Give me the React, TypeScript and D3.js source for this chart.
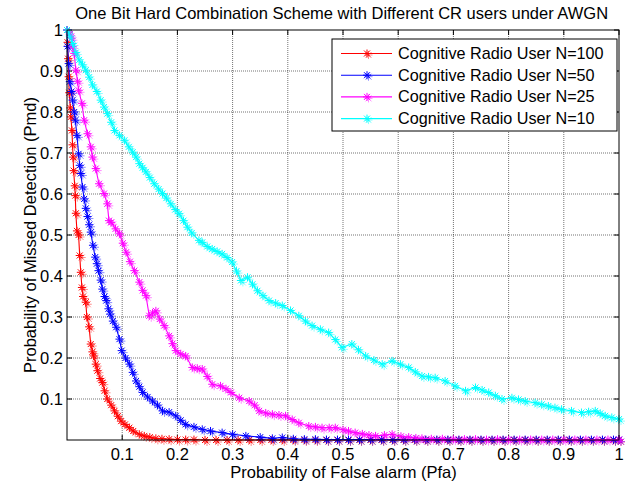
import * as d3 from 'd3'

const redPfa = [0, 0.001, 0.002, 0.003, 0.004, 0.006, 0.007, 0.009, 0.01, 0.011, 0.012, 0.014, 0.015, 0.016, 0.018, 0.021, 0.023, 0.025, 0.027, 0.029, 0.034, 0.036, 0.04, 0.043, 0.046, 0.048, 0.052, 0.055, 0.06, 0.064, 0.068, 0.073, 0.08, 0.086, 0.092, 0.098, 0.105, 0.113, 0.12, 0.131, 0.14, 0.15, 0.161, 0.172, 0.185, 0.2, 0.215, 0.23, 0.25, 0.27, 0.29, 0.31, 0.33, 0.35, 0.37, 0.39, 0.41, 0.43, 0.45, 0.47, 0.49, 0.51, 0.53, 0.55, 0.57, 0.59, 0.61, 0.63, 0.65, 0.67, 0.69, 0.71, 0.73, 0.75, 0.77, 0.79, 0.81, 0.83, 0.85, 0.87, 0.89, 0.91, 0.93, 0.95, 0.97, 0.99, 1]
const redPmd = [1, 0.97, 0.93, 0.886, 0.847, 0.81, 0.788, 0.755, 0.72, 0.69, 0.657, 0.62, 0.596, 0.553, 0.51, 0.5, 0.45, 0.409, 0.372, 0.35, 0.336, 0.3, 0.276, 0.234, 0.215, 0.205, 0.185, 0.169, 0.15, 0.14, 0.12, 0.1, 0.085, 0.071, 0.058, 0.046, 0.038, 0.03, 0.022, 0.014, 0.01, 0.007, 0.004, 0.003, 0.002, 0.001, 0.001, 0.001, 0, 0, 0, 0, 0, 0, 0, 0, 0, 0, 0, 0, 0, 0, 0, 0, 0, 0, 0, 0, 0, 0, 0, 0, 0, 0, 0, 0, 0, 0, 0, 0, 0, 0, 0, 0, 0, 0, 0]

const bluePfa = [0, 0.001, 0.003, 0.005, 0.008, 0.01, 0.013, 0.015, 0.018, 0.021, 0.023, 0.025, 0.028, 0.031, 0.034, 0.037, 0.04, 0.043, 0.047, 0.051, 0.054, 0.057, 0.061, 0.064, 0.068, 0.071, 0.075, 0.078, 0.083, 0.089, 0.095, 0.099, 0.106, 0.113, 0.119, 0.125, 0.131, 0.137, 0.146, 0.155, 0.164, 0.173, 0.185, 0.197, 0.206, 0.215, 0.23, 0.245, 0.26, 0.281, 0.3, 0.324, 0.35, 0.372, 0.39, 0.41, 0.43, 0.45, 0.47, 0.49, 0.51, 0.53, 0.55, 0.57, 0.59, 0.61, 0.63, 0.65, 0.67, 0.69, 0.71, 0.73, 0.75, 0.77, 0.79, 0.81, 0.83, 0.85, 0.87, 0.89, 0.91, 0.93, 0.95, 0.97, 0.99, 1]
const bluePmd = [1, 0.96, 0.918, 0.874, 0.85, 0.829, 0.8, 0.78, 0.743, 0.698, 0.67, 0.65, 0.617, 0.588, 0.565, 0.545, 0.525, 0.507, 0.475, 0.446, 0.43, 0.413, 0.39, 0.368, 0.35, 0.34, 0.32, 0.307, 0.29, 0.275, 0.246, 0.218, 0.2, 0.185, 0.165, 0.144, 0.13, 0.116, 0.105, 0.095, 0.085, 0.071, 0.068, 0.059, 0.048, 0.038, 0.032, 0.026, 0.022, 0.018, 0.014, 0.01, 0.007, 0.004, 0.006, 0.003, 0.002, 0.002, 0.001, 0.001, 0.001, 0.001, 0.001, 0.001, 0.001, 0.001, 0.001, 0.001, 0.001, 0.001, 0.001, 0.001, 0.001, 0.001, 0.001, 0.001, 0.001, 0.001, 0.001, 0.001, 0.001, 0.001, 0.001, 0.001, 0.001, 0.001]

const magentaPfa = [0, 0.005, 0.008, 0.01, 0.013, 0.016, 0.019, 0.021, 0.027, 0.031, 0.037, 0.043, 0.046, 0.052, 0.058, 0.067, 0.073, 0.076, 0.08, 0.088, 0.095, 0.101, 0.107, 0.114, 0.122, 0.131, 0.137, 0.143, 0.149, 0.155, 0.161, 0.168, 0.176, 0.185, 0.191, 0.197, 0.206, 0.215, 0.227, 0.236, 0.245, 0.254, 0.263, 0.278, 0.288, 0.297, 0.312, 0.33, 0.34, 0.348, 0.36, 0.372, 0.384, 0.396, 0.408, 0.42, 0.438, 0.45, 0.462, 0.475, 0.486, 0.5, 0.51, 0.522, 0.535, 0.547, 0.559, 0.575, 0.589, 0.605, 0.619, 0.632, 0.643, 0.66, 0.68, 0.7, 0.72, 0.74, 0.76, 0.78, 0.8, 0.82, 0.84, 0.86, 0.88, 0.9, 0.92, 0.94, 0.96, 0.98, 1]
const magentaPmd = [1, 0.99, 0.98, 0.96, 0.943, 0.902, 0.875, 0.853, 0.821, 0.78, 0.747, 0.715, 0.69, 0.662, 0.625, 0.601, 0.576, 0.535, 0.531, 0.515, 0.503, 0.48, 0.458, 0.435, 0.413, 0.385, 0.365, 0.352, 0.303, 0.31, 0.315, 0.295, 0.279, 0.254, 0.235, 0.218, 0.21, 0.205, 0.177, 0.175, 0.173, 0.155, 0.136, 0.132, 0.125, 0.116, 0.103, 0.095, 0.085, 0.071, 0.066, 0.063, 0.061, 0.059, 0.05, 0.042, 0.034, 0.032, 0.03, 0.03, 0.03, 0.025, 0.022, 0.018, 0.015, 0.012, 0.01, 0.012, 0.014, 0.009, 0.007, 0.005, 0.004, 0.003, 0.003, 0.002, 0.002, 0.002, 0.001, 0.002, 0.001, 0.001, 0.001, 0.001, 0.001, 0.001, 0.001, 0.001, 0.001, 0.001, 0.001]

const cyanPfa = [0, 0.005, 0.01, 0.016, 0.022, 0.028, 0.034, 0.04, 0.046, 0.054, 0.061, 0.067, 0.073, 0.08, 0.086, 0.095, 0.104, 0.112, 0.119, 0.125, 0.131, 0.137, 0.143, 0.15, 0.158, 0.166, 0.173, 0.18, 0.188, 0.196, 0.203, 0.211, 0.218, 0.226, 0.239, 0.245, 0.254, 0.263, 0.272, 0.281, 0.29, 0.299, 0.307, 0.315, 0.327, 0.336, 0.345, 0.355, 0.366, 0.378, 0.39, 0.405, 0.42, 0.432, 0.444, 0.459, 0.474, 0.486, 0.498, 0.516, 0.528, 0.541, 0.556, 0.571, 0.589, 0.604, 0.619, 0.631, 0.643, 0.655, 0.667, 0.685, 0.703, 0.722, 0.74, 0.752, 0.764, 0.776, 0.788, 0.806, 0.818, 0.83, 0.848, 0.86, 0.872, 0.884, 0.896, 0.914, 0.932, 0.945, 0.957, 0.966, 0.975, 0.987, 1]
const cyanPmd = [1, 0.985, 0.967, 0.945, 0.927, 0.915, 0.902, 0.885, 0.866, 0.85, 0.829, 0.812, 0.796, 0.775, 0.755, 0.743, 0.731, 0.715, 0.702, 0.69, 0.674, 0.664, 0.654, 0.64, 0.625, 0.612, 0.601, 0.59, 0.576, 0.562, 0.552, 0.535, 0.519, 0.505, 0.487, 0.482, 0.472, 0.466, 0.46, 0.454, 0.445, 0.434, 0.412, 0.389, 0.397, 0.38, 0.364, 0.352, 0.34, 0.334, 0.328, 0.316, 0.303, 0.29, 0.279, 0.27, 0.262, 0.245, 0.226, 0.234, 0.22, 0.205, 0.195, 0.185, 0.193, 0.185, 0.177, 0.166, 0.156, 0.154, 0.152, 0.144, 0.132, 0.12, 0.128, 0.122, 0.116, 0.108, 0.1, 0.103, 0.099, 0.095, 0.091, 0.087, 0.083, 0.079, 0.075, 0.071, 0.067, 0.069, 0.071, 0.065, 0.059, 0.055, 0.051]

const seriesNames = ['Cognitive Radio User N=100', 'Cognitive Radio User N=50', 'Cognitive Radio User N=25', 'Cognitive Radio User N=10']
const seriesColors = ['#ff0000', '#0000ff', '#ff00ff', '#00ffff']
const tickValues = [0.1, 0.2, 0.3, 0.4, 0.5, 0.6, 0.7, 0.8, 0.9, 1]

const W = 630
const H = 485
const M = { left: 67, right: 619, top: 30, bottom: 440 }
const FONT = 'Liberation Sans, Arial, sans-serif'

// MATLAB-style '*' marker
const STAR = 'M-4,0L4,0M0,-4L0,4M-3,-3L3,3M-3,3L3,-3'

export default function App() {
  const x = d3.scaleLinear().domain([0, 1]).range([M.left, M.right])
  const y = d3.scaleLinear().domain([0, 1]).range([M.bottom, M.top])

  const series = [
    { pfa: redPfa, pmd: redPmd },
    { pfa: bluePfa, pmd: bluePmd },
    { pfa: magentaPfa, pmd: magentaPmd },
    { pfa: cyanPfa, pmd: cyanPmd },
  ].map((s, i) => ({
    name: seriesNames[i],
    color: seriesColors[i],
    points: s.pfa.map((v, j) => [v, s.pmd[j]] as [number, number]),
  }))

  const line = d3
    .line<[number, number]>()
    .x(d => x(d[0]))
    .y(d => y(d[1]))

  const legend = { x: 332, y: 39, w: 285, h: 92, row: 21.7 }
  const fmt = d3.format('~g')

  return (
    <svg
      width={W}
      height={H}
      style={{ position: 'absolute', left: 0, top: 0, background: '#fff' }}
      fontFamily={FONT}
    >
      <rect x={0} y={0} width={W} height={H} fill="#fff" />

      {/* grid */}
      <g stroke="#000" strokeOpacity={0.55} strokeWidth={1} strokeDasharray="1,1">
        {tickValues.slice(0, -1).map(t => (
          <line key={'gx' + t} x1={x(t)} x2={x(t)} y1={M.top} y2={M.bottom} />
        ))}
        {tickValues.slice(0, -1).map(t => (
          <line key={'gy' + t} x1={M.left} x2={M.right} y1={y(t)} y2={y(t)} />
        ))}
      </g>

      {/* ticks on all sides */}
      <g stroke="#000" strokeWidth={1}>
        {tickValues.map(t => (
          <g key={'t' + t}>
            <line x1={x(t)} x2={x(t)} y1={M.bottom} y2={M.bottom - 5} />
            <line x1={x(t)} x2={x(t)} y1={M.top} y2={M.top + 5} />
            <line x1={M.left} x2={M.left + 5} y1={y(t)} y2={y(t)} />
            <line x1={M.right} x2={M.right - 5} y1={y(t)} y2={y(t)} />
          </g>
        ))}
      </g>

      {/* curves */}
      {series.map(s => (
        <g key={s.name}>
          <path d={line(s.points) ?? ''} fill="none" stroke={s.color} strokeWidth={1.1} />
          <g stroke={s.color} strokeWidth={1} fill="none">
            {s.points.map((p, j) => (
              <g key={j}>
                <path d={STAR} transform={`translate(${x(p[0]) + 2},${y(p[1]) + 2})`} strokeOpacity={0.45} />
                <path d={STAR} transform={`translate(${x(p[0])},${y(p[1])})`} />
              </g>
            ))}
          </g>
        </g>
      ))}

      {/* axes box */}
      <rect x={M.left} y={M.top} width={M.right - M.left} height={M.bottom - M.top} fill="none" stroke="#000" strokeWidth={1} />

      {/* tick labels */}
      <g fontSize={16.5} fill="#000">
        {tickValues.map(t => (
          <text key={'xl' + t} x={x(t)} y={M.bottom + 20} textAnchor="middle">
            {fmt(t)}
          </text>
        ))}
        {tickValues.map(t => (
          <text key={'yl' + t} x={M.left - 4} y={y(t) + 6} textAnchor="end">
            {fmt(t)}
          </text>
        ))}
      </g>

      {/* title & axis labels */}
      <text x={341.7} y={18.5} textAnchor="middle" fontSize={16.5}>
        One Bit Hard Combination Scheme with Different CR users under AWGN
      </text>
      <text x={343.5} y={478} textAnchor="middle" fontSize={16.5}>
        Probability of False alarm (Pfa)
      </text>
      <text transform={`translate(36,${(M.top + M.bottom) / 2}) rotate(-90)`} textAnchor="middle" fontSize={16.5}>
        Probability of Missed Detection (Pmd)
      </text>

      {/* legend */}
      <g>
        <rect x={legend.x} y={legend.y} width={legend.w} height={legend.h} fill="#fff" stroke="#000" strokeWidth={1} />
        {series.map((s, i) => {
          const ly = legend.y + 14.5 + i * legend.row
          return (
            <g key={'lg' + i}>
              <line x1={legend.x + 9} x2={legend.x + 60} y1={ly} y2={ly} stroke={s.color} strokeWidth={1.1} />
              <path d={STAR} transform={`translate(${legend.x + 36.5},${ly + 1.5})`} stroke={s.color} strokeOpacity={0.45} fill="none" />
              <path d={STAR} transform={`translate(${legend.x + 35},${ly})`} stroke={s.color} fill="none" />
              <text x={legend.x + 66} y={ly + 5.5} fontSize={16.2}>
                {s.name}
              </text>
            </g>
          )
        })}
      </g>
    </svg>
  )
}
